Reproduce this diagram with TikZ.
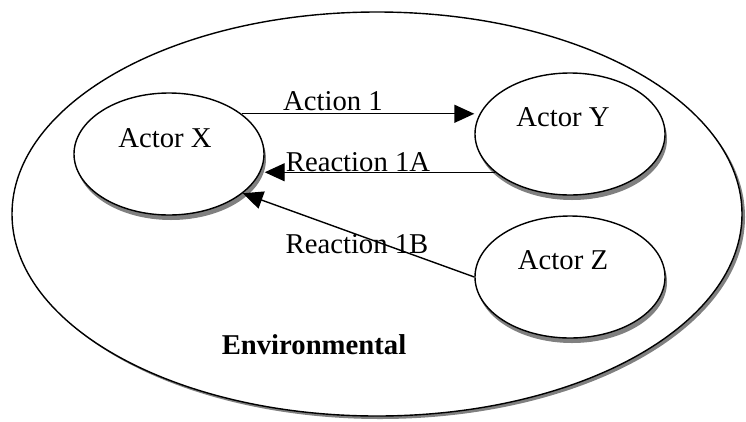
\documentclass[tikz,border=0pt]{standalone}
\usepackage{fontspec}
\setmainfont{Liberation Serif}
\usetikzlibrary{shapes.geometric,shadows,arrows.meta}

\begin{document}
\begin{tikzpicture}[x=1pt,y=-1pt,>={Triangle[length=20pt,width=18pt]},line width=1.4pt,
  main node/.style={ellipse,draw,fill=white,inner sep=0pt,minimum width=190pt,minimum height=122pt,drop shadow={shadow xshift=2pt,shadow yshift=-5pt,fill=gray,opacity=1}},
  label node/.style={anchor=base,inner sep=0pt,font=\fontsize{28.7}{34}\selectfont}]

            \useasboundingbox (0,0) rectangle (746,421);

            \node[ellipse, draw, fill=white, inner sep=0pt, minimum width=730pt, minimum height=404pt, drop shadow={shadow xshift=3pt,shadow yshift=-3pt,fill=gray,opacity=1}] (0) at (377,214) {};

            \node[main node] (1) at (169,154) {};
            \node[main node] (2) at (570,134) {};
            \node[main node] (3) at (570,277) {};

            \node[label node] (1t) at (165,147) {Actor X};
            \node[label node] (2t) at (563,126) {Actor Y};
            \node[label node] (3t) at (563,269) {Actor Z};
            \node[label node] (a1) at (333,110) {Action 1};
            \node[label node] (r1a) at (358,171) {Reaction 1A};
            \node[label node] (r1b) at (357,253) {Reaction 1B};
            \node[label node, font=\fontsize{28.7}{34}\selectfont\bfseries] (env) at (314,354) {Environmental};

            \draw[->] (1.29) to (1.29 -| 2.west);
            \draw[->] (2.207) to (2.207 -| 1.east);
            \draw[->] (3.west) to (1.-28);

        \end{tikzpicture}
\end{document}
